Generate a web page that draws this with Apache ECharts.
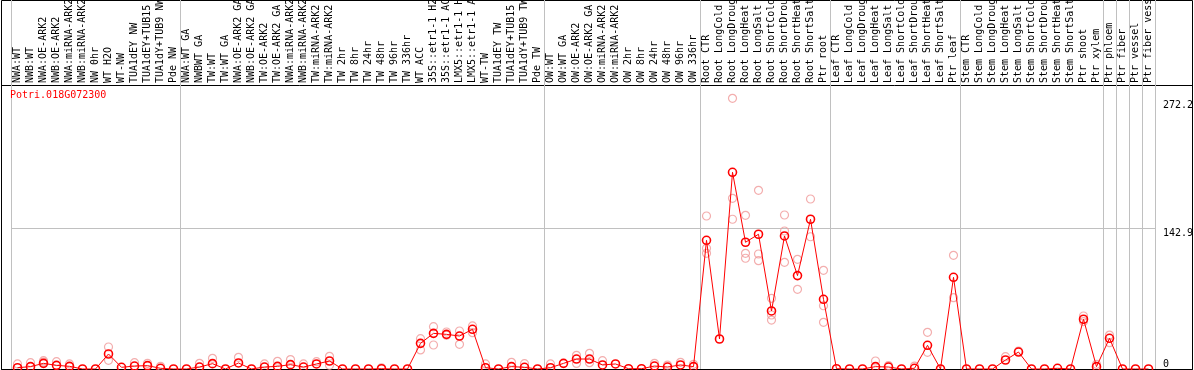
<!DOCTYPE html>
<html lang="en">
<head>
<meta charset="UTF-8">
<title>Potri.018G072300</title>
<script src="https://cdn.jsdelivr.net/npm/echarts@6/dist/echarts.min.js"></script>
<style>
  html, body { margin: 0; padding: 0; background: #fff; }
  #main { width: 1194px; height: 370px; }
</style>
</head>
<body>
<div id="main"></div>
<script type="text/javascript">
const geneId = 'Potri.018G072300';

// sample groups (a gray separator is drawn before each group)
const nwSamples = ['NWA:WT', 'NWB:WT', 'NWA:OE-ARK2', 'NWB:OE-ARK2', 'NWA:miRNA-ARK2', 'NWB:miRNA-ARK2',
  'NW 0hr', 'WT H2O', 'WT-NW', 'TUA1dEY NW', 'TUA1dEY+TUB15 NW', 'TUA1dY+TUB9 NW', 'Pde NW'];
const twSamples = ['NWA:WT GA', 'NWBWT GA', 'TW:WT', 'TW:WT GA', 'NWA:OE-ARK2 GA', 'NWB:OE-ARK2 GA',
  'TW:OE-ARK2', 'TW:OE-ARK2 GA', 'NWA:miRNA-ARK2', 'NWB:miRNA-ARK2', 'TW:miRNA-ARK2', 'TW:miRNA-ARK2',
  'TW 2hr', 'TW 8hr', 'TW 24hr', 'TW 48hr', 'TW 96hr', 'TW 336hr', 'WT ACC',
  '35S::etr1-1 H2O', '35S::etr1-1 ACC', 'LMX5::etr1-1 H2O', 'LMX5::etr1-1 ACC',
  'WT-TW', 'TUA1dEY TW', 'TUA1dEY+TUB15 TW', 'TUA1dY+TUB9 TW', 'Pde TW'];
const owSamples = ['OW:WT', 'OW:WT GA', 'OW:OE-ARK2', 'OW:OE-ARK2 GA', 'OW:miRNA-ARK2', 'OW:miRNA-ARK2',
  'OW 2hr', 'OW 8hr', 'OW 24hr', 'OW 48hr', 'OW 96hr', 'OW 336hr'];
const rootSamples = ['Root CTR', 'Root LongCold', 'Root LongDrought', 'Root LongHeat', 'Root LongSalt',
  'Root ShortCold', 'Root ShortDrought', 'Root ShortHeat', 'Root ShortSalt', 'Ptr root'];
const leafSamples = ['Leaf CTR', 'Leaf LongCold', 'Leaf LongDrought', 'Leaf LongHeat', 'Leaf LongSalt',
  'Leaf ShortCold', 'Leaf ShortDrought', 'Leaf ShortHeat', 'Leaf ShortSalt', 'Ptr leaf'];
const stemSamples = ['Stem CTR', 'Stem LongCold', 'Stem LongDrought', 'Stem LongHeat', 'Stem LongSalt',
  'Stem ShortCold', 'Stem ShortDrought', 'Stem ShortHeat', 'Stem ShortSalt', 'Ptr shoot', 'Ptr xylem'];
const woodSamples = [['Ptr phloem'], ['Ptr fiber'], ['Ptr vessel'], ['Ptr fiber vessel']];

// mean expression per sample
const meanValues = [
  1.3, 2.4, 5.7, 3.7, 2.7, 0, 0, 15.2, 1.7, 3.0, 3.4, 0.7, 0,
  0, 2.0, 5.4, 0, 6.1, 0, 2.0, 2.7, 4.4, 2.0, 5.1, 8.1, 0, 0, 0, 0.3, 0, 0,
  26.0, 36.1, 35.1, 33.4, 40.2, 1.3, 0, 2.4, 1.7, 0,
  1.3, 5.7, 10.1, 10.1, 4.1, 5.1, 0.3, 0.3, 3.0, 2.0, 4.1, 2.4,
  130.4, 30.4, 199.3, 128.4, 136.5, 58.8, 134.8, 94.6, 151.7, 70.6,
  0.3, 0, 0, 2.4, 2.0, 0, 0.7, 24.0, 0, 92.9,
  0, 0, 0, 9.1, 17.2, 0, 0, 0.7, 0, 50.4, 2.4,
  31.1, 0, 0, 0
];

// individual replicates (only the ones visible apart from the mean)
const replicateValues = [
  [5.1], [6.4], [8.4, 7.1], [7.4], [5.1], [], [], [22.3, 8.8], [], [6.4], [5.7], [2.7], [],
  [], [5.7], [10.8], [], [11.8], [], [5.1], [7.8], [9.5], [5.1], [7.4], [12.8, 3.7], [], [], [], [1.2], [], [],
  [30.7, 19.3], [42.9, 24.3], [37.5, 34.2], [38.5, 25.0], [43.6, 36.8], [5.1], [], [6.8], [5.4], [],
  [5.1], [], [13.9, 5.7], [15.9, 6.4], [8.4], [], [], [], [5.7], [4.0], [6.8], [4.7],
  [155.0, 122.3, 117.2], [], [274.2, 172.9, 151.7], [155.7, 117.2, 112.2], [181.0, 116.5, 109.7],
  [71.6, 54.7, 49.6], [156.0, 139.8, 108.1], [111.1, 80.7], [172.2, 134.0], [100.0, 64.1, 47.3],
  [], [], [], [8.1], [3.5], [], [3.0], [37.2, 16.9], [], [115.2, 72.3],
  [], [], [], [12.5], [18.2], [], [], [], [], [53.7, 48.0], [4.7],
  [34.4, 26.7], [], [], []
];

const yTickValues = [0, 142.9, 272.2];
const yMax = 286.7;

const groups = [nwSamples, twSamples, owSamples, rootSamples, leafSamples, stemSamples].concat(woodSamples);
const categories = [].concat(...groups);

const groupStarts = [];
let count = 0;
groups.forEach(g => { groupStarts.push(count); count += g.length; });

const repPoints = [];
replicateValues.forEach((reps, i) => {
  reps.forEach(v => repPoints.push([i, v]));
});

const monoFont = 'DejaVu Sans Mono';
const separator = {
  show: true,
  interval: function (idx) { return groupStarts.indexOf(idx) >= 0; },
  lineStyle: { color: '#c0c0c0', width: 1 }
};

const option = {
  animation: false,
  backgroundColor: '#fff',
  title: {
    text: geneId,
    left: 10,
    top: 90,
    padding: 0,
    textStyle: { color: '#ff0000', fontSize: 10, fontFamily: monoFont, fontWeight: 'normal' }
  },
  grid: [
    { left: 11, right: 39, top: 86, bottom: 1, outerBoundsMode: 'none' },
    { left: 11, right: 39, top: 0, height: 86, outerBoundsMode: 'none' },
    { left: 1.5, right: 1.5, top: 0.5, bottom: 0.5, outerBoundsMode: 'none',
      show: true, borderColor: '#000', borderWidth: 1 },
    { left: 1.5, right: 1.5, top: 85.5, bottom: 0.5, outerBoundsMode: 'none',
      show: true, borderColor: '#000', borderWidth: 1 }
  ],
  xAxis: [
    {
      type: 'category', gridIndex: 0, position: 'top', data: categories,
      axisLine: { show: false }, axisTick: { show: false },
      axisLabel: { interval: 0, rotate: 90, margin: 3,
        fontFamily: monoFont, fontSize: 10, color: '#000' },
      splitLine: separator
    },
    {
      type: 'category', gridIndex: 1, data: categories,
      axisLine: { show: false }, axisTick: { show: false }, axisLabel: { show: false },
      splitLine: separator
    }
  ],
  yAxis: [
    {
      type: 'value', gridIndex: 0, position: 'right', min: 0, max: yMax,
      axisLine: { show: false },
      axisTick: { show: false, customValues: [yTickValues[1]] },
      splitLine: { show: true, lineStyle: { color: '#c0c0c0', width: 1 } },
      axisLabel: { customValues: yTickValues.slice(1), verticalAlign: 'top', margin: 8,
        fontFamily: monoFont, fontSize: 10, color: '#000' }
    },
    {
      type: 'value', gridIndex: 0, position: 'right', min: 0, max: yMax,
      axisLine: { show: false }, axisTick: { show: false }, splitLine: { show: false },
      axisLabel: { customValues: yTickValues.slice(0, 1), verticalAlign: 'bottom', margin: 8,
        fontFamily: monoFont, fontSize: 10, color: '#000' }
    },
    { type: 'value', gridIndex: 1, show: false }
  ],
  series: [
    {
      name: 'replicates',
      type: 'scatter',
      xAxisIndex: 0, yAxisIndex: 0,
      data: repPoints,
      symbol: 'circle',
      symbolSize: 8,
      silent: true,
      z: 2,
      itemStyle: { color: 'rgba(0,0,0,0)', borderColor: '#f09a9a', borderWidth: 1.2 }
    },
    {
      name: 'mean',
      type: 'line',
      xAxisIndex: 0, yAxisIndex: 0,
      data: meanValues,
      symbol: 'circle',
      symbolSize: 8,
      showAllSymbol: true,
      silent: true,
      z: 3,
      lineStyle: { color: '#ff0000', width: 1 },
      itemStyle: { color: 'rgba(0,0,0,0)', borderColor: '#ff0000', borderWidth: 1.6 }
    }
  ]
};

const myChart = echarts.init(document.getElementById('main'));
myChart.setOption(option);
</script>
</body>
</html>
